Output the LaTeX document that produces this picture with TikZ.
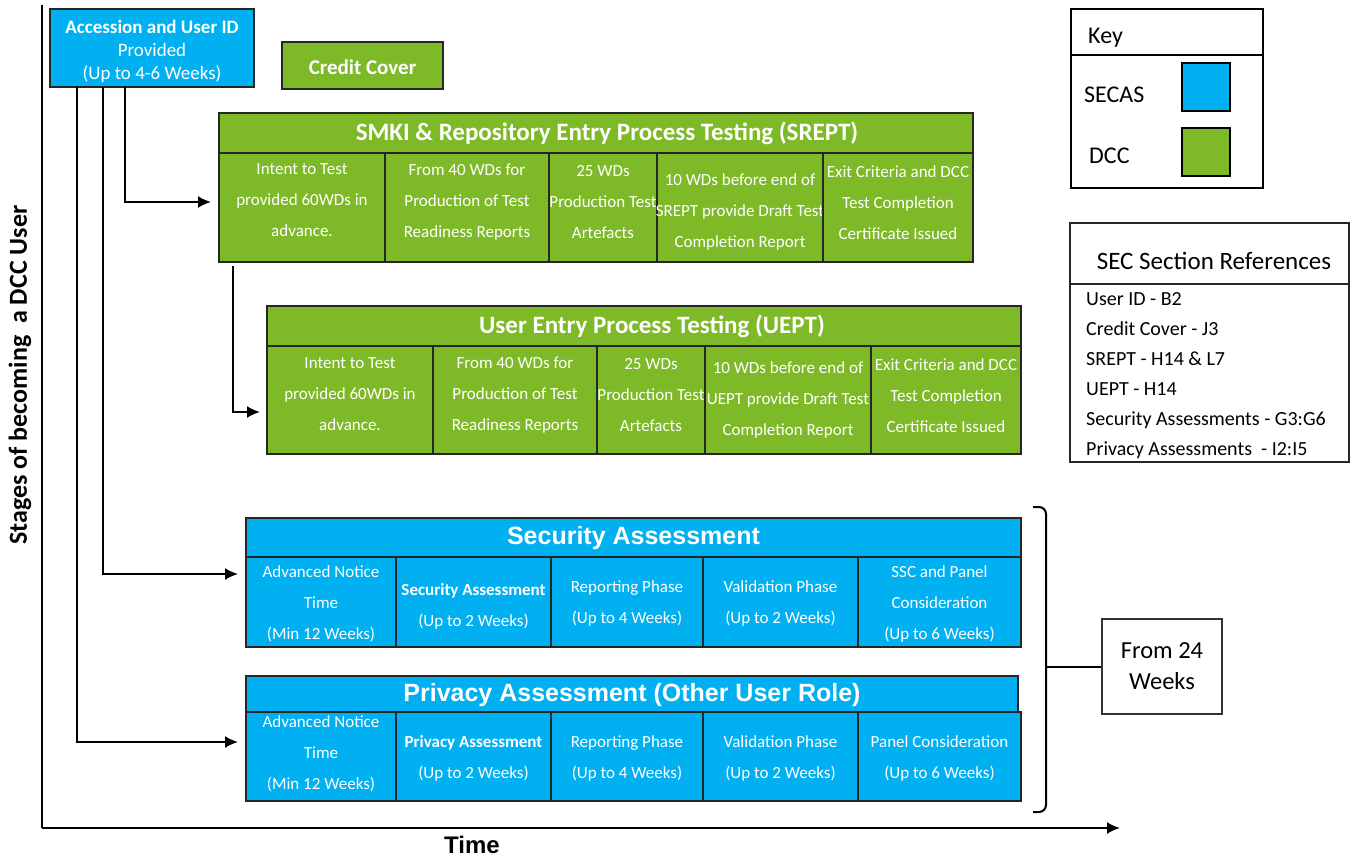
\documentclass[tikz,border=0pt]{standalone}
\usepackage{fontspec}
\setmainfont{Carlito}
\newfontfamily\arialfont{Liberation Sans}
\usetikzlibrary{arrows.meta}
\definecolor{secas}{RGB}{0,176,240}
\definecolor{dcc}{RGB}{126,185,39}
\newcommand\cellbox[8]{%
  \node[#6, minimum width={(#4-#2)*1pt}, minimum height={(#5-#3)*1pt}] (#1) at ({(#2+#4)/2},{(#3+#5)/2}) {};
  \node[celltext] (#1t) at ({(#2+#4)/2},#7) {#8};}
\begin{document}
\begin{tikzpicture}[x=1pt,y=-1pt,
  gbox/.style={draw=black!85, fill=dcc, line width=1.2pt, inner sep=0pt, outer sep=0pt},
  bbox/.style={draw=black!85, fill=secas, line width=1.2pt, inner sep=0pt, outer sep=0pt},
  frame/.style={draw=black!85, line width=1.4pt, inner sep=0pt, outer sep=0pt},
  celltext/.style={text=white, align=center, inner sep=0pt, font=\fontsize{17}{31}\selectfont},
  gtitle/.style={text=white, inner sep=0pt, font=\fontsize{25}{30}\selectfont\bfseries},
  btitle/.style={text=white, inner sep=0pt, font=\fontsize{25}{30}\selectfont\arialfont\bfseries},
  conn/.style={line width=2pt, black},
  arr/.style={conn, -{Latex[length=13pt,width=12pt]}},
  plain/.style={inner sep=0pt, text=black}]
\useasboundingbox (0,0) rectangle (1352,857);

% axes
\coordinate (ytop) at (42,5);
\coordinate (orig) at (42,828);
\coordinate (xend) at (1120,828);
\draw[conn] (ytop) -- (orig);
\draw[arr] (orig) -- (xend);
\node[plain, rotate=90, font=\fontsize{26}{30}\selectfont\bfseries] (ylab) at (20,375) {Stages of becoming\ \ a DCC User};
\node[plain, font=\fontsize{24}{28}\selectfont\arialfont\bfseries] (xlab) at (472,845) {Time};

% top boxes
\node[bbox, minimum width=204pt, minimum height=78pt, text=white, align=center, font=\fontsize{19}{23}\selectfont] (acc) at (152,48) {};
\node[text=white, align=center, inner sep=0pt, font=\fontsize{19}{23}\selectfont] (acct) at (152,51) {{\bfseries Accession and User ID}\\Provided\\(Up to 4-6 Weeks)};
\node[gbox, minimum width=161pt, minimum height=47pt, text=white, font=\fontsize{21}{25}\selectfont\bfseries] (credit) at (362.5,65.5) {};
\node[text=white, inner sep=0pt, font=\fontsize{21}{25}\selectfont\bfseries] (creditt) at (362.5,67.5) {Credit Cover};

% SREPT
\node[gbox, minimum width=754pt, minimum height=40pt] (sreptT) at (596,133) {};
\node[gtitle] (sreptTt) at (607,133) {SMKI \& Repository Entry Process Testing (SREPT)};
\cellbox{s1}{219}{153}{385}{262}{gbox}{200}{Intent to Test\\provided 60WDs in\\advance.}
\cellbox{s2}{385}{153}{549}{262}{gbox}{202}{From 40 WDs for\\Production of Test\\Readiness Reports}
\cellbox{s3}{549}{153}{657}{262}{gbox}{202}{25 WDs\\Production Test\\Artefacts}
\cellbox{s4}{657}{153}{823}{262}{gbox}{212}{10 WDs before end of\\SREPT provide Draft Test\\Completion Report}
\cellbox{s5}{823}{153}{973}{262}{gbox}{203}{Exit Criteria and DCC\\Test Completion\\Certificate Issued}
\node[frame, minimum width=754pt, minimum height=149pt] (srept) at (596,187.5) {};

% UEPT
\node[gbox, minimum width=754pt, minimum height=40pt] (ueptT) at (644,326) {};
\node[gtitle] (ueptTt) at (652,326) {User Entry Process Testing (UEPT)};
\cellbox{u1}{267}{346}{433}{454}{gbox}{394}{Intent to Test\\provided 60WDs in\\advance.}
\cellbox{u2}{433}{346}{597}{454}{gbox}{395}{From 40 WDs for\\Production of Test\\Readiness Reports}
\cellbox{u3}{597}{346}{705}{454}{gbox}{395}{25 WDs\\Production Test\\Artefacts}
\cellbox{u4}{705}{346}{871}{454}{gbox}{400}{10 WDs before end of\\UEPT provide Draft Test\\Completion Report}
\cellbox{u5}{871}{346}{1021}{454}{gbox}{396}{Exit Criteria and DCC\\Test Completion\\Certificate Issued}
\node[frame, minimum width=754pt, minimum height=148pt] (uept) at (644,380) {};

% Security Assessment
\node[bbox, minimum width=775pt, minimum height=39pt] (secT) at (633.5,537.5) {};
\node[btitle] (secTt) at (633.5,538) {Security Assessment};
\cellbox{a1}{246}{557}{396}{647}{bbox}{604}{Advanced Notice\\Time\\(Min 12 Weeks)}
\cellbox{a2}{396}{557}{551}{647}{bbox}{606}{{\bfseries Security Assessment}\\(Up to 2 Weeks)}
\cellbox{a3}{551}{557}{703}{647}{bbox}{603}{Reporting Phase\\(Up to 4 Weeks)}
\cellbox{a4}{703}{557}{858}{647}{bbox}{603}{Validation Phase\\(Up to 2 Weeks)}
\cellbox{a5}{858}{557}{1021}{647}{bbox}{604}{SSC and Panel\\Consideration\\(Up to 6 Weeks)}
\node[frame, minimum width=775pt, minimum height=129pt] (sec) at (633.5,582.5) {};

% Privacy Assessment
\node[bbox, minimum width=772pt, minimum height=36pt] (privT) at (632,694) {};
\node[btitle] (privTt) at (632,695) {Privacy Assessment (Other User Role)};
\cellbox{p1}{246}{712}{396}{801}{bbox}{754}{Advanced Notice\\Time\\(Min 12 Weeks)}
\cellbox{p2}{396}{712}{551}{801}{bbox}{758}{{\bfseries Privacy Assessment}\\(Up to 2 Weeks)}
\cellbox{p3}{551}{712}{703}{801}{bbox}{758}{Reporting Phase\\(Up to 4 Weeks)}
\cellbox{p4}{703}{712}{858}{801}{bbox}{758}{Validation Phase\\(Up to 2 Weeks)}
\cellbox{p5}{858}{712}{1021}{801}{bbox}{758}{Panel Consideration\\(Up to 6 Weeks)}

% connectors
\coordinate (k1) at (125,202);
\coordinate (k2) at (103,574);
\coordinate (k3) at (77,742);
\coordinate (k4) at (233,266);
\coordinate (k4b) at (233,412);
\draw[arr] (acc.south -| k1) |- ([xshift=-8pt]srept.west |- k1);
\draw[arr] (acc.south -| k2) |- ([xshift=-8pt]sec.west |- k2);
\draw[arr] (acc.south -| k3) |- ([xshift=-8pt]p1.west |- k3);
\draw[arr] (k4) -- (k4b) -- ([xshift=-7pt]uept.west |- k4b);

% bracket and duration
\node[draw=black!80, line width=1.3pt, minimum width=120pt, minimum height=95pt, align=center, inner sep=0pt, font=\fontsize{24.5}{31}\selectfont] (dur) at (1162,666.5) {From 24\\Weeks};
\coordinate (b1) at (1033,507);
\coordinate (b2) at (1046,507);
\coordinate (b3) at (1046,812);
\coordinate (b4) at (1033,812);
\draw[conn, rounded corners=7pt] (b1) -- (b2) -- (b3) -- (b4);
\draw[conn] (b2 |- dur.west) -- (dur.west);

% key
\node[draw=black, line width=1.6pt, minimum width=192pt, minimum height=179pt, inner sep=0pt] (key) at (1167,98.5) {};
\coordinate (kd) at (1071,55);
\draw[line width=1.6pt] (kd) -- (kd -| key.east);
\node[plain, anchor=west, font=\fontsize{24}{28}\selectfont] (keyt) at (1088,38) {Key};
\node[plain, anchor=west, font=\fontsize{24}{28}\selectfont] (secast) at (1084,95) {SECAS};
\node[plain, anchor=west, font=\fontsize{24}{28}\selectfont] (dcct) at (1089,156) {DCC};
\node[draw=black, fill=secas, line width=2pt, minimum width=48pt, minimum height=48pt, inner sep=0pt] (ksecas) at (1206,87) {};
\node[draw=black, fill=dcc, line width=2pt, minimum width=48pt, minimum height=48pt, inner sep=0pt] (kdcc) at (1206,152) {};

% SEC references
\node[draw=black!85, line width=1.6pt, minimum width=279pt, minimum height=239pt, inner sep=0pt] (refs) at (1209.5,342.5) {};
\coordinate (rd) at (1070,284);
\draw[line width=1.6pt, black!85] (rd) -- (rd -| refs.east);
\node[plain, font=\fontsize{25}{30}\selectfont] (refst) at (1214,261) {SEC Section References};
\node[plain, anchor=west, font=\fontsize{20}{24}\selectfont] (r1) at (1086,299) {User ID - B2};
\node[plain, anchor=west, font=\fontsize{20}{24}\selectfont] (r2) at (1086,329) {Credit Cover - J3};
\node[plain, anchor=west, font=\fontsize{20}{24}\selectfont] (r3) at (1086,359) {SREPT - H14 \& L7};
\node[plain, anchor=west, font=\fontsize{20}{24}\selectfont] (r4) at (1086,389) {UEPT - H14};
\node[plain, anchor=west, font=\fontsize{20}{24}\selectfont] (r5) at (1086,420) {Security Assessments - G3:G6};
\node[plain, anchor=west, font=\fontsize{20}{24}\selectfont] (r6) at (1086,450) {Privacy Assessments\ \ - I2:I5};
\end{tikzpicture}
\end{document}
